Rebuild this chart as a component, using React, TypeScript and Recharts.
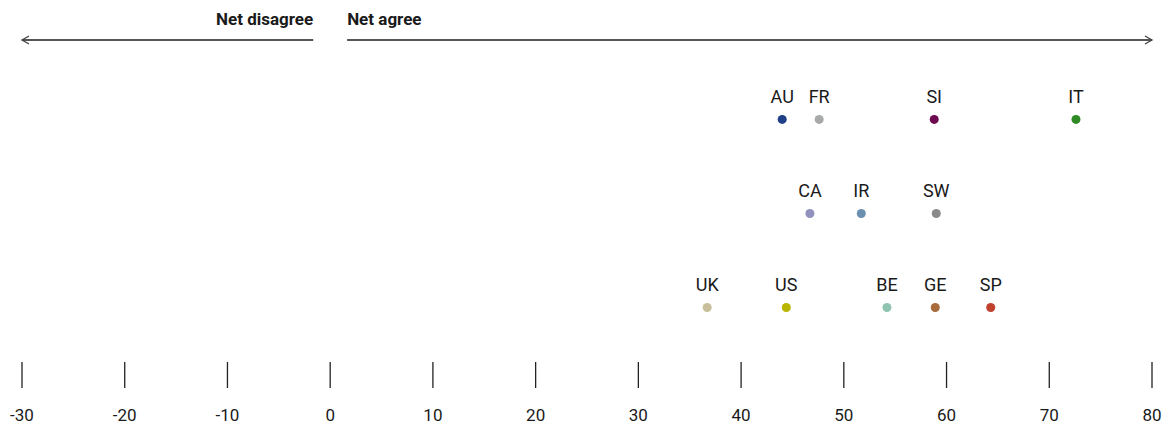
import React from 'react'
import {
  ScatterChart,
  Scatter,
  XAxis,
  YAxis,
  ZAxis,
  Cell,
  LabelList,
  ReferenceLine,
} from 'recharts'

const countries = ['AU', 'FR', 'SI', 'IT', 'CA', 'IR', 'SW', 'UK', 'US', 'BE', 'GE', 'SP']
const netAgree = [44.0, 47.6, 58.8, 72.6, 46.7, 51.7, 59.0, 36.7, 44.4, 54.2, 58.9, 64.3]
const rows = [3, 3, 3, 3, 2, 2, 2, 1, 1, 1, 1, 1]
const colours = [
  '#1f3f87', '#a7aaa9', '#6e0a4f', '#2e8a25',
  '#9091bd', '#6b8fb0', '#8a8a8a',
  '#c8c09a', '#b8b400', '#8fc4b0', '#a86b3c', '#c0402e',
]
const xTicks = [-30, -20, -10, 0, 10, 20, 30, 40, 50, 60, 70, 80]

const FONT = "'Liberation Sans Narrow', 'Roboto', sans-serif"
const ARROW_ROW = 3.844

const data = countries.map((c, i) => ({ country: c, value: netAgree[i], row: rows[i] }))

// line with a small open chevron at one end
const arrowShape = (dir: 'left' | 'right', label: string) => (props: any) => {
  const { x1, x2, y1 } = props
  const tip = dir === 'left' ? Math.min(x1, x2) : Math.max(x1, x2)
  const tail = dir === 'left' ? Math.max(x1, x2) : Math.min(x1, x2)
  const s = dir === 'left' ? 1 : -1
  return (
    <g>
      <line x1={tail} y1={y1} x2={tip} y2={y1} stroke="#555" strokeWidth={2} />
      <polyline
        points={`${tip + 7 * s},${y1 - 4} ${tip},${y1} ${tip + 7 * s},${y1 + 4}`}
        fill="none"
        stroke="#444"
        strokeWidth={1.3}
      />
      <text
        x={tail}
        y={y1 - 15}
        textAnchor={dir === 'left' ? 'end' : 'start'}
        fontFamily={FONT}
        fontWeight="bold"
        fontSize={17}
        fill="#1a1a1a"
      >
        {label}
      </text>
    </g>
  )
}

export default function App() {
  return (
    <div style={{ position: 'absolute', left: 0, top: 0, width: 1170, height: 428, background: '#fff' }}>
      <ScatterChart width={1170} height={428} margin={{ top: 0, right: 18, bottom: 0, left: 22 }}>
        <XAxis
          type="number"
          dataKey="value"
          domain={[-30, 80]}
          ticks={xTicks}
          axisLine={false}
          tickLine={{ stroke: '#222', strokeWidth: 1.3 }}
          tickSize={26}
          tickMargin={21}
          height={66}
          interval={0}
          tick={{ fill: '#1a1a1a', fontSize: 17, fontFamily: FONT }}
        />
        <YAxis type="number" dataKey="row" domain={[0.42, 4.27]} hide />
        <ZAxis range={[50, 50]} />
        <ReferenceLine
          segment={[{ x: -30, y: ARROW_ROW }, { x: -1.65, y: ARROW_ROW }]}
          shape={arrowShape('left', 'Net disagree')}
          ifOverflow="visible"
        />
        <ReferenceLine
          segment={[{ x: 1.65, y: ARROW_ROW }, { x: 80, y: ARROW_ROW }]}
          shape={arrowShape('right', 'Net agree')}
          ifOverflow="visible"
        />
        <Scatter data={data} isAnimationActive={false}>
          {data.map((d, i) => (
            <Cell key={d.country} fill={colours[i]} />
          ))}
          <LabelList
            dataKey="country"
            position="top"
            offset={12}
            style={{ fill: '#1a1a1a', fontSize: 18, fontFamily: FONT }}
          />
        </Scatter>
      </ScatterChart>
    </div>
  )
}
